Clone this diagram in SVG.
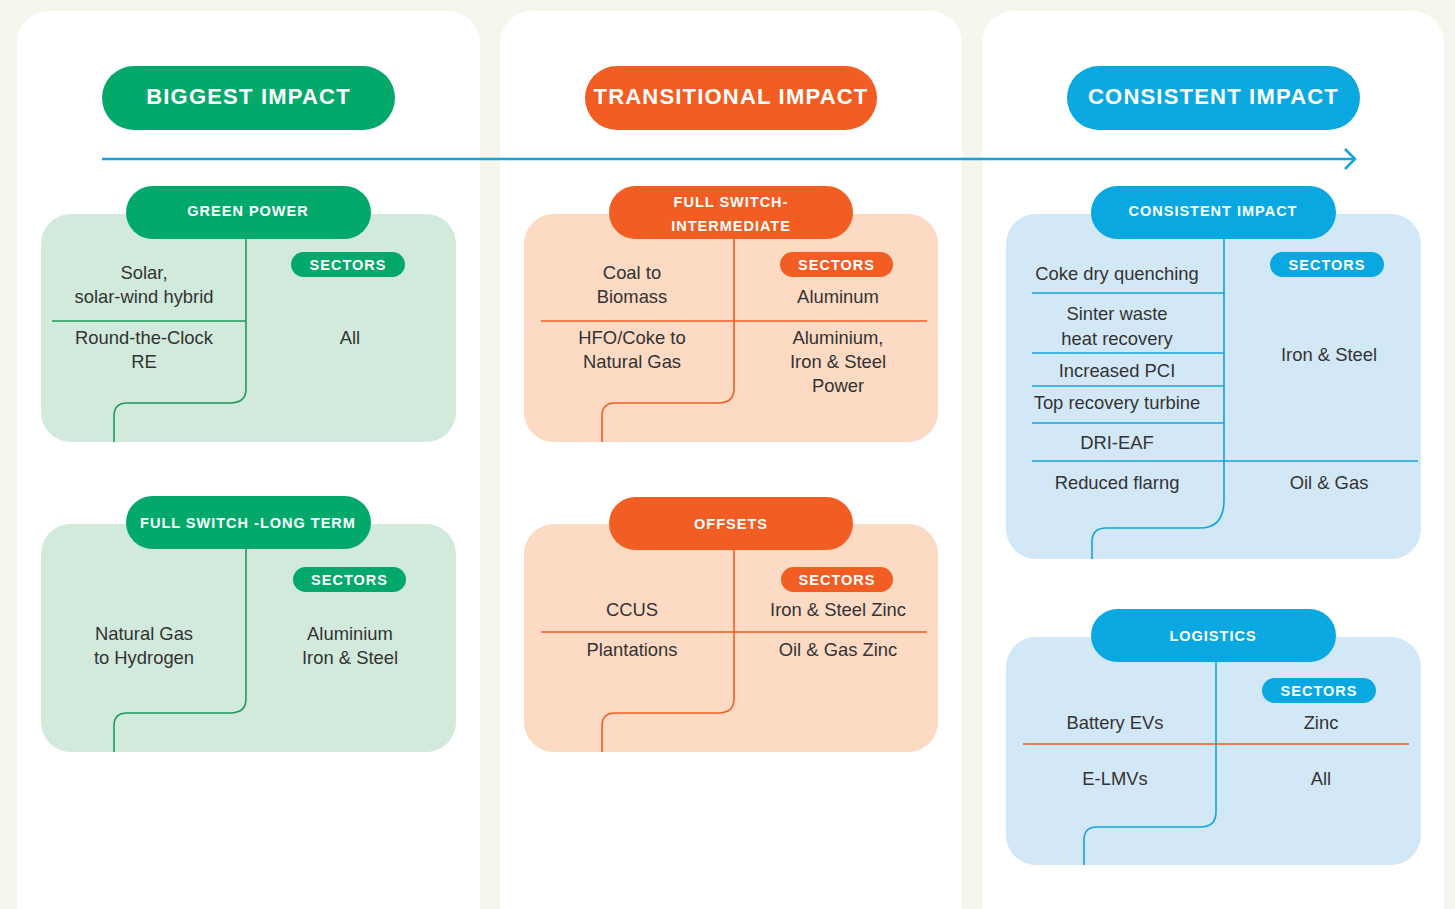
<svg xmlns="http://www.w3.org/2000/svg" width="1455" height="909" viewBox="0 0 1455 909">
<style>
.panel{fill:#ffffff}
.tp{font-family:"Liberation Sans",Arial,sans-serif;font-weight:bold;font-size:22px;fill:#fff;text-anchor:middle;letter-spacing:1.2px}
.hp{font-family:"Liberation Sans",Arial,sans-serif;font-weight:bold;font-size:14.5px;fill:#fff;text-anchor:middle;letter-spacing:1px}
.t{font-family:"Liberation Sans",Arial,sans-serif;font-size:18.4px;fill:#333;text-anchor:middle}
.g{fill:#03a96b}.gl{fill:#d1eadb}.gs{stroke:#1f9a5a}
.o{fill:#f15d22}.ol{fill:#fddac3}.os{stroke:#f15d22}
.b{fill:#0aa8e0}.bl{fill:#d3e8f6}.bs{stroke:#12a4dc}
.ln{fill:none;stroke-width:1.6}
</style>
<defs>
<marker id="chev" markerWidth="16" markerHeight="24" refX="13" refY="12" markerUnits="userSpaceOnUse" orient="auto">
<path d="M3,2 L13,12 L3,22" fill="none" stroke="#12a4dc" stroke-width="2.5"/>
</marker>
</defs>
<rect width="1455" height="909" fill="#f6f5ee"/>
<rect class="panel" x="17" y="11" width="463" height="940" rx="32"/>
<rect class="panel" x="500" y="11" width="462" height="940" rx="32"/>
<rect class="panel" x="982" y="11" width="462" height="940" rx="32"/>

<g id="biggest-impact"><rect class="g" x="102" y="66" width="293" height="64" rx="32"/><text class="tp" x="248.5" y="104">BIGGEST IMPACT</text></g>
<g id="transitional-impact"><rect class="o" x="585" y="66" width="292" height="64" rx="32"/><text class="tp" x="731" y="104">TRANSITIONAL IMPACT</text></g>
<g id="consistent-impact-title"><rect class="b" x="1067" y="66" width="293" height="64" rx="32"/><text class="tp" x="1213.5" y="104">CONSISTENT IMPACT</text></g>

<g id="connectors">
<line x1="102" y1="159" x2="1355" y2="159" stroke="#12a4dc" stroke-width="2.5" marker-end="url(#chev)"/>
</g>

<g id="green-power">
<rect class="gl" x="41" y="214" width="415" height="228" rx="30"/>
<path class="ln gs" d="M246,239 V389 Q246,403 230,403 H127 Q114,403 114,416 V442"/>
<line class="gs" x1="52" y1="321" x2="246" y2="321" stroke-width="1.6"/>
<rect class="g" x="126" y="186" width="245" height="53" rx="26.5"/>
<text class="hp" x="248" y="216">GREEN POWER</text>
<rect class="g" x="291" y="252" width="114" height="25" rx="12.5"/>
<text class="hp" x="348" y="270">SECTORS</text>
<text class="t" x="144" y="279">Solar,</text>
<text class="t" x="144" y="303">solar-wind hybrid</text>
<text class="t" x="144" y="344">Round-the-Clock</text>
<text class="t" x="144" y="368">RE</text>
<text class="t" x="350" y="344">All</text>
</g>

<g id="full-switch-long-term">
<rect class="gl" x="41" y="524" width="415" height="228" rx="30"/>
<path class="ln gs" d="M246,549 V699 Q246,713 230,713 H127 Q114,713 114,726 V752"/>
<rect class="g" x="126" y="496" width="245" height="53" rx="26.5"/>
<text class="hp" x="248" y="528">FULL SWITCH -LONG TERM</text>
<rect class="g" x="293" y="567" width="113" height="25" rx="12.5"/>
<text class="hp" x="349.5" y="585">SECTORS</text>
<text class="t" x="144" y="640">Natural Gas</text>
<text class="t" x="144" y="664">to Hydrogen</text>
<text class="t" x="350" y="640">Aluminium</text>
<text class="t" x="350" y="664">Iron &amp; Steel</text>
</g>

<g id="full-switch-intermediate">
<rect class="ol" x="524" y="214" width="414" height="228" rx="30"/>
<path class="ln os" d="M734,239 V389 Q734,403 718,403 H615 Q602,403 602,416 V442"/>
<line class="os" x1="541" y1="321" x2="927" y2="321" stroke-width="1.6"/>
<rect class="o" x="609" y="186" width="244" height="53" rx="26.5"/>
<text class="hp" x="731" y="207">FULL SWITCH-</text>
<text class="hp" x="731" y="231">INTERMEDIATE</text>
<rect class="o" x="780" y="252" width="113" height="25" rx="12.5"/>
<text class="hp" x="836.5" y="270">SECTORS</text>
<text class="t" x="632" y="279">Coal to</text>
<text class="t" x="632" y="303">Biomass</text>
<text class="t" x="838" y="303">Aluminum</text>
<text class="t" x="632" y="344">HFO/Coke to</text>
<text class="t" x="632" y="368">Natural Gas</text>
<text class="t" x="838" y="344">Aluminium,</text>
<text class="t" x="838" y="368">Iron &amp; Steel</text>
<text class="t" x="838" y="392">Power</text>
</g>

<g id="offsets">
<rect class="ol" x="524" y="524" width="414" height="228" rx="30"/>
<path class="ln os" d="M734,550 V699 Q734,713 718,713 H615 Q602,713 602,726 V752"/>
<line class="os" x1="541" y1="632" x2="927" y2="632" stroke-width="1.6"/>
<rect class="o" x="609" y="497" width="244" height="53" rx="26.5"/>
<text class="hp" x="731" y="529">OFFSETS</text>
<rect class="o" x="781" y="567" width="112" height="25" rx="12.5"/>
<text class="hp" x="837" y="585">SECTORS</text>
<text class="t" x="632" y="616">CCUS</text>
<text class="t" x="632" y="656">Plantations</text>
<text class="t" x="838" y="616">Iron &amp; Steel Zinc</text>
<text class="t" x="838" y="656">Oil &amp; Gas Zinc</text>
</g>

<g id="consistent-impact">
<rect class="bl" x="1006" y="214" width="415" height="345" rx="30"/>
<path class="ln bs" d="M1224,239 V500 Q1224,528 1200,528 H1106 Q1092,528 1092,542 V559"/>
<g class="bs" stroke-width="1.6">
<line x1="1032" y1="293" x2="1224" y2="293"/>
<line x1="1032" y1="353" x2="1224" y2="353"/>
<line x1="1032" y1="386" x2="1224" y2="386"/>
<line x1="1032" y1="423" x2="1224" y2="423"/>
<line x1="1032" y1="461" x2="1418" y2="461"/>
</g>
<rect class="b" x="1091" y="186" width="245" height="53" rx="26.5"/>
<text class="hp" x="1213" y="216">CONSISTENT IMPACT</text>
<rect class="b" x="1270" y="252" width="114" height="25" rx="12.5"/>
<text class="hp" x="1327" y="270">SECTORS</text>
<text class="t" x="1117" y="280">Coke dry quenching</text>
<text class="t" x="1117" y="320">Sinter waste</text>
<text class="t" x="1117" y="345">heat recovery</text>
<text class="t" x="1117" y="377">Increased PCI</text>
<text class="t" x="1117" y="409">Top recovery turbine</text>
<text class="t" x="1117" y="449">DRI-EAF</text>
<text class="t" x="1117" y="489">Reduced flarng</text>
<text class="t" x="1329" y="361">Iron &amp; Steel</text>
<text class="t" x="1329" y="489">Oil &amp; Gas</text>
</g>

<g id="logistics">
<rect class="bl" x="1006" y="637" width="415" height="228" rx="30"/>
<path class="ln bs" d="M1216,662 V812 Q1216,827 1200,827 H1097 Q1084,827 1084,840 V865"/>
<line x1="1023" y1="744" x2="1409" y2="744" stroke="#f15d22" stroke-width="1.6"/>
<rect class="b" x="1091" y="609" width="245" height="53" rx="26.5"/>
<text class="hp" x="1213" y="641">LOGISTICS</text>
<rect class="b" x="1262" y="678" width="114" height="25" rx="12.5"/>
<text class="hp" x="1319" y="696">SECTORS</text>
<text class="t" x="1115" y="729">Battery EVs</text>
<text class="t" x="1321" y="729">Zinc</text>
<text class="t" x="1115" y="785">E-LMVs</text>
<text class="t" x="1321" y="785">All</text>
</g>
</svg>
